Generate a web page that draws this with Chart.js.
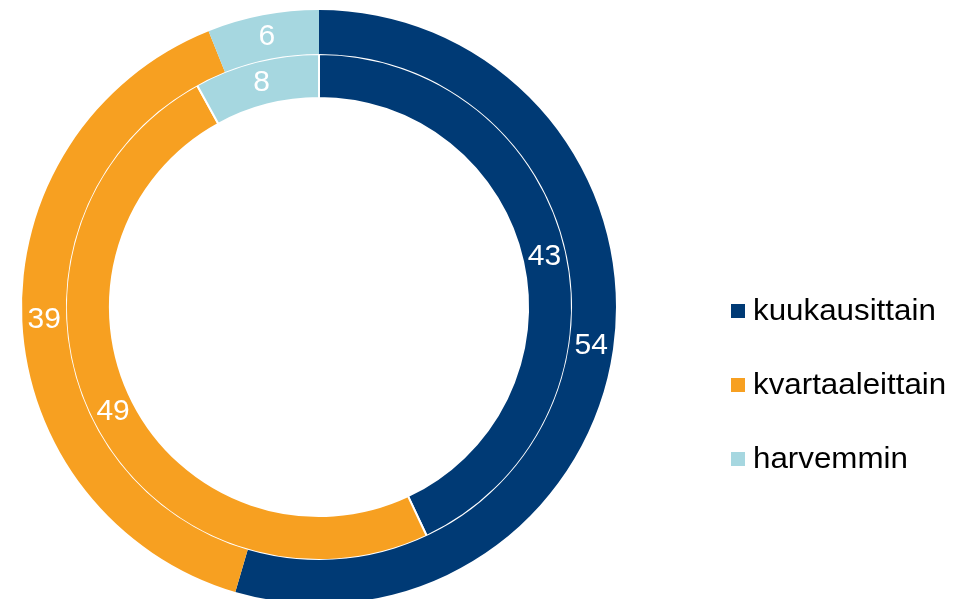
<!DOCTYPE html>
<html>
<head>
<meta charset="utf-8">
<script src="https://cdn.jsdelivr.net/npm/chart.js@4"></script>
<style>
  html, body { margin: 0; padding: 0; background: #fff; overflow: hidden; }
  #wrap { position: absolute; left: 0; top: 0; width: 974px; height: 620px; }
</style>
</head>
<body>
<div id="wrap"><canvas id="c"></canvas></div>
<script>
    const categories = ["kuukausittain", "kvartaaleittain", "harvemmin"];
    const outerValues = [54, 39, 6];
    const innerValues = [43, 49, 8];
    const colors = ["#003a75", "#f7a021", "#a6d7e0"];

    // white numbers in the middle of each segment
    const arcLabels = {
        id: "arcLabels",
        afterDatasetsDraw(chart) {
            const ctx = chart.ctx;
            ctx.save();
            ctx.fillStyle = "#ffffff";
            ctx.font = "30px 'Liberation Sans', Arial, sans-serif";
            ctx.textAlign = "center";
            ctx.textBaseline = "middle";
            chart.data.datasets.forEach((ds, i) => {
                chart.getDatasetMeta(i).data.forEach((arc, j) => {
                    const p = arc.getCenterPoint();
                    ctx.fillText(String(ds.data[j]), p.x, p.y);
                });
            });
            ctx.restore();
        }
    };

    // legend on the right
    const sideLegend = {
        id: "sideLegend",
        afterDraw(chart) {
            const ctx = chart.ctx;
            ctx.save();
            ctx.font = "29px 'Liberation Sans', Arial, sans-serif";
            ctx.textBaseline = "alphabetic";
            ctx.textAlign = "left";
            categories.forEach((name, i) => {
                const y = 320 + i * 74;
                ctx.fillStyle = colors[i];
                ctx.fillRect(731, y - 16, 14, 14);
                ctx.fillStyle = "#000000";
                ctx.save();
                ctx.translate(753, y);
                ctx.scale(1.08, 1);
                ctx.fillText(name, 0, 0);
                ctx.restore();
            });
            ctx.restore();
        }
    };

    new Chart(document.getElementById("c").getContext("2d"), {
        type: "doughnut",
        data: {
            labels: categories,
            datasets: [
                { label: "outer", data: outerValues, backgroundColor: colors, borderWidth: 0 },
                { label: "inner", data: innerValues, backgroundColor: colors, borderColor: "#ffffff", borderWidth: 2 }
            ]
        },
        options: {
            responsive: true,
            maintainAspectRatio: false,
            animation: false,
            cutout: "70.4%",
            layout: { padding: { left: 22, top: 10, right: 358, bottom: 16 } },
            plugins: {
                legend: { display: false },
                tooltip: { enabled: false }
            }
        },
        plugins: [arcLabels, sideLegend]
    });
</script>
</body>
</html>
